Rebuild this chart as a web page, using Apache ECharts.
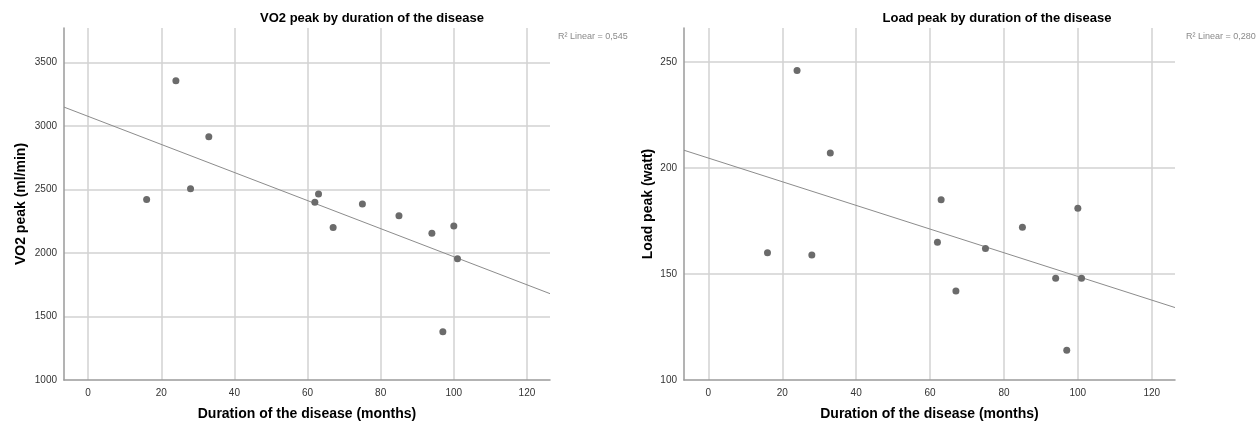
<!DOCTYPE html>
<html>
<head>
<meta charset="utf-8">
<script src="https://cdn.jsdelivr.net/npm/echarts@6/dist/echarts.min.js"></script>
<style>
html,body{margin:0;padding:0;background:#fff;}
#main{width:1258px;height:423px;}
</style>
</head>
<body>
<div id="main"></div>
<script>
// duration of the disease (months), same patients in both plots
var months = [16, 24, 28, 33, 62, 63, 67, 75, 85, 94, 100, 101, 97];
var vo2Peak = [2420, 3355, 2505, 2915, 2398, 2464, 2200, 2385, 2293, 2154, 2212, 1955, 1380];
var loadPeak = [160, 246, 159, 207, 165, 185, 142, 162, 172, 148, 181, 148, 114];
var monthTicks = [0, 20, 40, 60, 80, 100, 120];
var r2Labels = ['R\u00b2 Linear = 0,545', 'R\u00b2 Linear = 0,280'];

var xMin = -6.6, xMax = 126.3;

function pairs(xs, ys){
	var out = [];
	for (var i = 0; i < xs.length; i++) out.push([xs[i], ys[i]]);
	return out;
}
// least squares fit, drawn across the whole x axis
function fitLine(xs, ys){
	var n = xs.length, mx = 0, my = 0, sxx = 0, sxy = 0;
	for (var i = 0; i < n; i++){ mx += xs[i]; my += ys[i]; }
	mx /= n; my /= n;
	for (var j = 0; j < n; j++){
		sxx += (xs[j]-mx)*(xs[j]-mx);
		sxy += (xs[j]-mx)*(ys[j]-my);
	}
	var b = sxy/sxx, a = my - b*mx;
	return [[xMin, a + b*xMin], [xMax, a + b*xMax]];
}

var font = '"Liberation Sans", Arial, sans-serif';
var gridCol = '#d2d2d2';

function xAx(idx){
	return {
		type:'value', gridIndex:idx, min:xMin, max:xMax,
		name:'Duration of the disease (months)', nameLocation:'middle', nameGap:27,
		nameTextStyle:{color:'#000', fontSize:14, fontWeight:'bold', fontFamily:font},
		axisLine:{show:true, onZero:false, lineStyle:{color:'#9a9a9a', width:1.5}},
		axisTick:{show:false, customValues:monthTicks},
		axisLabel:{color:'#333', fontSize:10, fontFamily:font, margin:8, customValues:monthTicks,
			formatter:function(v){ return String(v); }},
		splitLine:{show:true, lineStyle:{color:gridCol, width:1.5}}
	};
}
function yAx(idx, name, min, max, step, gap){
	return {
		type:'value', gridIndex:idx, min:min, max:max, interval:step,
		name:name, nameLocation:'middle', nameGap:gap,
		nameTextStyle:{color:'#000', fontSize:14, fontWeight:'bold', fontFamily:font},
		axisLine:{show:true, onZero:false, lineStyle:{color:'#9a9a9a', width:1.5}},
		axisTick:{show:false},
		axisLabel:{color:'#333', fontSize:10, fontFamily:font, margin:7, showMaxLabel:false,
			formatter:function(v){ return String(v); }},
		splitLine:{show:true, showMinLine:false, showMaxLine:false, lineStyle:{color:gridCol, width:1.5}}
	};
}
function dots(idx, ys){
	return {
		type:'scatter', xAxisIndex:idx, yAxisIndex:idx, data:pairs(months, ys),
		symbolSize:7, itemStyle:{color:'#6b6b6b', opacity:1}, z:3
	};
}
function fit(idx, ys){
	return {
		type:'line', xAxisIndex:idx, yAxisIndex:idx, data:fitLine(months, ys),
		symbol:'none', silent:true, lineStyle:{color:'#8c8c8c', width:1}, z:2
	};
}

var chart = echarts.init(document.getElementById('main'));
option = {
	backgroundColor:'#fff',
	animation:false,
	title:[
		{text:'VO2 peak by duration of the disease', left:367, top:7, textAlign:'center',
			textStyle:{fontSize:13, fontWeight:'bold', color:'#000', fontFamily:font}},
		{text:'Load peak by duration of the disease', left:992, top:7, textAlign:'center',
			textStyle:{fontSize:13, fontWeight:'bold', color:'#000', fontFamily:font}},
		{text:r2Labels[0], left:553, top:27,
			textStyle:{fontSize:9, fontWeight:'normal', color:'#8a8a8a', fontFamily:font}},
		{text:r2Labels[1], left:1181, top:27,
			textStyle:{fontSize:9, fontWeight:'normal', color:'#8a8a8a', fontFamily:font}}
	],
	grid:[
		{left:64, top:28, width:486, height:352, outerBoundsMode:'none', containLabel:false},
		{left:684, top:28, width:491, height:352, outerBoundsMode:'none', containLabel:false}
	],
	xAxis:[xAx(0), xAx(1)],
	yAxis:[
		yAx(0, 'VO2 peak (ml/min)', 1000, 3770, 500, 36),
		yAx(1, 'Load peak (watt)', 100, 266, 50, 29)
	],
	series:[
		fit(0, vo2Peak), dots(0, vo2Peak),
		fit(1, loadPeak), dots(1, loadPeak)
	]
};
chart.setOption(option);
</script>
</body>
</html>
